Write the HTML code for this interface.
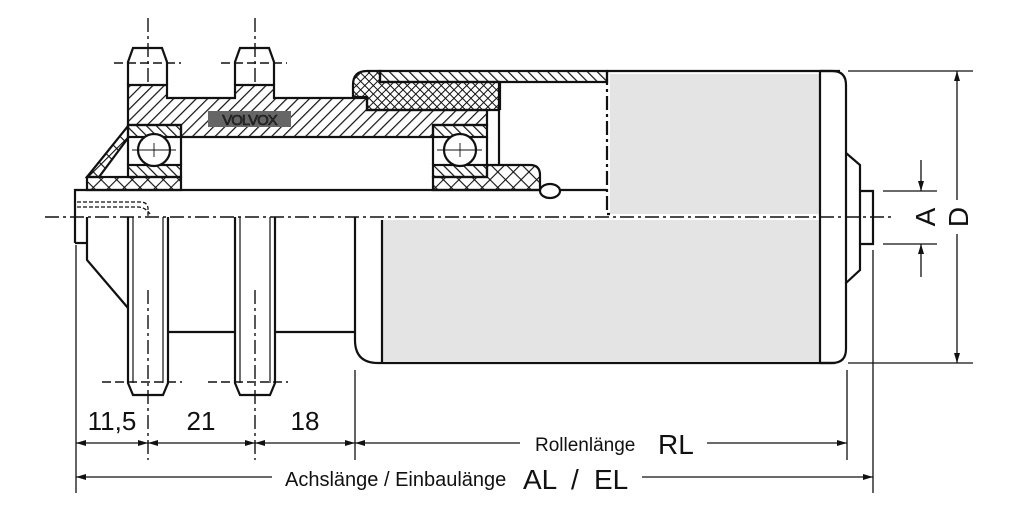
<!DOCTYPE html>
<html><head><meta charset="utf-8"><style>
html,body{margin:0;padding:0;background:#fff}
svg{display:block}
text{font-family:"Liberation Sans",Arial,sans-serif;fill:#111}
</style></head><body>
<svg width="1024" height="530" viewBox="0 0 1024 530" xmlns="http://www.w3.org/2000/svg">
<defs>
<pattern id="hb" width="8" height="8" patternUnits="userSpaceOnUse" patternTransform="rotate(45)"><line x1="0" y1="0" x2="0" y2="8" stroke="#111" stroke-width="2.4"/></pattern>
<pattern id="hf" width="7" height="7" patternUnits="userSpaceOnUse" patternTransform="rotate(-45)"><line x1="0" y1="0" x2="0" y2="7" stroke="#111" stroke-width="2.4"/></pattern>
<pattern id="hx" width="6" height="6" patternUnits="userSpaceOnUse" patternTransform="rotate(45)"><path d="M0 0V6M0 0H6" stroke="#111" stroke-width="2"/></pattern>
<pattern id="hxl" width="11" height="11" patternUnits="userSpaceOnUse" patternTransform="rotate(45)"><path d="M0 0V11M0 0H11" stroke="#111" stroke-width="2.2"/></pattern>
<marker id="ar" viewBox="0 0 10 6" refX="10" refY="3" markerWidth="16" markerHeight="6" orient="auto-start-reverse" markerUnits="userSpaceOnUse"><path d="M0 0L10 3L0 6z" fill="#111"/></marker>
</defs>
<g stroke="#111" stroke-width="2.2" fill="none">
<rect x="610" y="74" width="210" height="140" fill="#e4e4e4" stroke="none"/>
<rect x="382" y="220" width="438" height="141" fill="#e4e4e4" stroke="none"/>

<path d="M128 85V62L133 48H162L167 62V85"/>
<path d="M235 85V62L240 48H269L274 62V85"/>
<path d="M128 85H167V98H235V85H274V98H367V110H487V125H433V137H181V125H128Z" fill="url(#hb)"/>
<rect x="208" y="111" width="83" height="16" fill="#666" stroke="none"/>
<text x="249.5" y="125" font-size="15" text-anchor="middle" style="fill:#333;letter-spacing:-1px" stroke="#111" stroke-width="0.6">VOLVOX</text>
<path d="M380 71H607V82H380Z" fill="url(#hf)"/>
<path d="M367 71H380V82H499V110H367V97H353V85Q353 71 367 71Z" fill="url(#hx)"/>
<line x1="607" y1="71" x2="840" y2="71"/>
<rect x="128" y="125" width="53" height="12" fill="url(#hf)"/>
<rect x="128" y="165" width="53" height="12" fill="url(#hf)"/>
<line x1="128" y1="137" x2="128" y2="165"/><line x1="181" y1="137" x2="181" y2="165"/>
<circle cx="154" cy="150" r="16" fill="#fff"/>
<rect x="433" y="125" width="54" height="12" fill="url(#hf)"/>
<rect x="433" y="165" width="54" height="12" fill="url(#hf)"/>
<line x1="433" y1="137" x2="433" y2="165"/><line x1="487" y1="137" x2="487" y2="165"/>
<circle cx="460" cy="150" r="16" fill="#fff"/>
<g stroke-width="0.9"><path d="M132 150H176M154 143V157M437 150H482M460 143V157"/></g>
<path d="M87 177L128 126V138L99 177Z" fill="url(#hxl)"/>
<rect x="87" y="177" width="94" height="13" fill="url(#hxl)"/>
<path d="M499 110V165"/>
<path d="M433 190V177H487V165H530Q540 165 540 175V190Z" fill="url(#hxl)"/>
<ellipse cx="550" cy="191" rx="10" ry="7" fill="#fff"/>
<line x1="500" y1="82" x2="500" y2="110"/>
<path d="M75 243V190H540M560 190H607"/>
<path d="M75 243H87"/>
<path d="M87 217V260L128 308"/>
<g stroke-width="1.3" stroke-dasharray="4 2"><path d="M77 202H140Q148 202 148 209V217"/><path d="M77 207H138Q145 207 150 214"/></g>
<path d="M607 71V214H610" stroke-dasharray="14 4 3 4"/>
<path d="M355 217V340Q355 363 378 363H835"/>
<line x1="382" y1="220" x2="382" y2="363"/>
<line x1="820" y1="71" x2="820" y2="363"/>
<path d="M820 71H832Q846 71 846 85V349Q846 363 832 363H820"/>
<path d="M846 153L860 165V270L846 283"/>
<path d="M860 191H873V244H860"/>
<path d="M128 217V383L133 395H163L168 383V217"/>
<path d="M133 217V383M163 217V383" stroke-width="1.2"/>
<path d="M235 217V383L240 395H270L275 383V217"/>
<path d="M240 217V383M270 217V383" stroke-width="1.2"/>
<path d="M168 332H235M275 332H355"/>
<g stroke-width="1.4" stroke-dasharray="14 4 3 4">
<line x1="45" y1="217" x2="892" y2="217"/>
<line x1="148" y1="18" x2="148" y2="85"/><line x1="255" y1="18" x2="255" y2="85"/>
<line x1="148" y1="290" x2="148" y2="460"/><line x1="255" y1="290" x2="255" y2="460"/>
</g>
<g stroke-width="1.4" stroke-dasharray="9 4">
<path d="M114 63H181M221 63H287M102 382H182M208 382H288"/>
</g>
<g stroke-width="1.3">
<line x1="76" y1="245" x2="76" y2="493"/>
<line x1="355" y1="370" x2="355" y2="460"/>
<line x1="847" y1="370" x2="847" y2="460"/>
<line x1="873" y1="250" x2="873" y2="493"/>
<line x1="848" y1="71" x2="973" y2="71"/>
<line x1="848" y1="363" x2="973" y2="363"/>
<line x1="883" y1="191" x2="937" y2="191"/>
<line x1="883" y1="244" x2="937" y2="244"/>
<line x1="957" y1="71" x2="957" y2="200" marker-start="url(#ar)"/>
<line x1="957" y1="234" x2="957" y2="363" marker-end="url(#ar)"/>
<line x1="921" y1="160" x2="921" y2="191" marker-end="url(#ar)"/>
<line x1="921" y1="277" x2="921" y2="244" marker-end="url(#ar)"/>
<line x1="76" y1="443" x2="148" y2="443" marker-start="url(#ar)" marker-end="url(#ar)"/>
<line x1="148" y1="443" x2="255" y2="443" marker-start="url(#ar)" marker-end="url(#ar)"/>
<line x1="255" y1="443" x2="355" y2="443" marker-start="url(#ar)" marker-end="url(#ar)"/>
<line x1="355" y1="443" x2="520" y2="443" marker-start="url(#ar)"/>
<line x1="707" y1="443" x2="847" y2="443" marker-end="url(#ar)"/>
<line x1="76" y1="477" x2="272" y2="477" marker-start="url(#ar)"/>
<line x1="642" y1="477" x2="873" y2="477" marker-end="url(#ar)"/>
</g>
</g>
<text x="112" y="430" font-size="26" text-anchor="middle">11,5</text>
<text x="201" y="430" font-size="26" text-anchor="middle">21</text>
<text x="305" y="430" font-size="26" text-anchor="middle">18</text>
<text x="535" y="451" font-size="19">Rollenlänge</text>
<text x="658" y="454" font-size="28">RL</text>
<text x="285" y="486" font-size="20">Achslänge / Einbaulänge</text>
<text x="523" y="489" font-size="28">AL</text>
<text x="571" y="489" font-size="28">/</text>
<text x="594" y="489" font-size="28">EL</text>
<text x="0" y="0" font-size="28" transform="translate(935 217) rotate(-90)" text-anchor="middle">A</text>
<text x="0" y="0" font-size="28" transform="translate(968 217) rotate(-90)" text-anchor="middle">D</text>
</svg>
</body></html>
